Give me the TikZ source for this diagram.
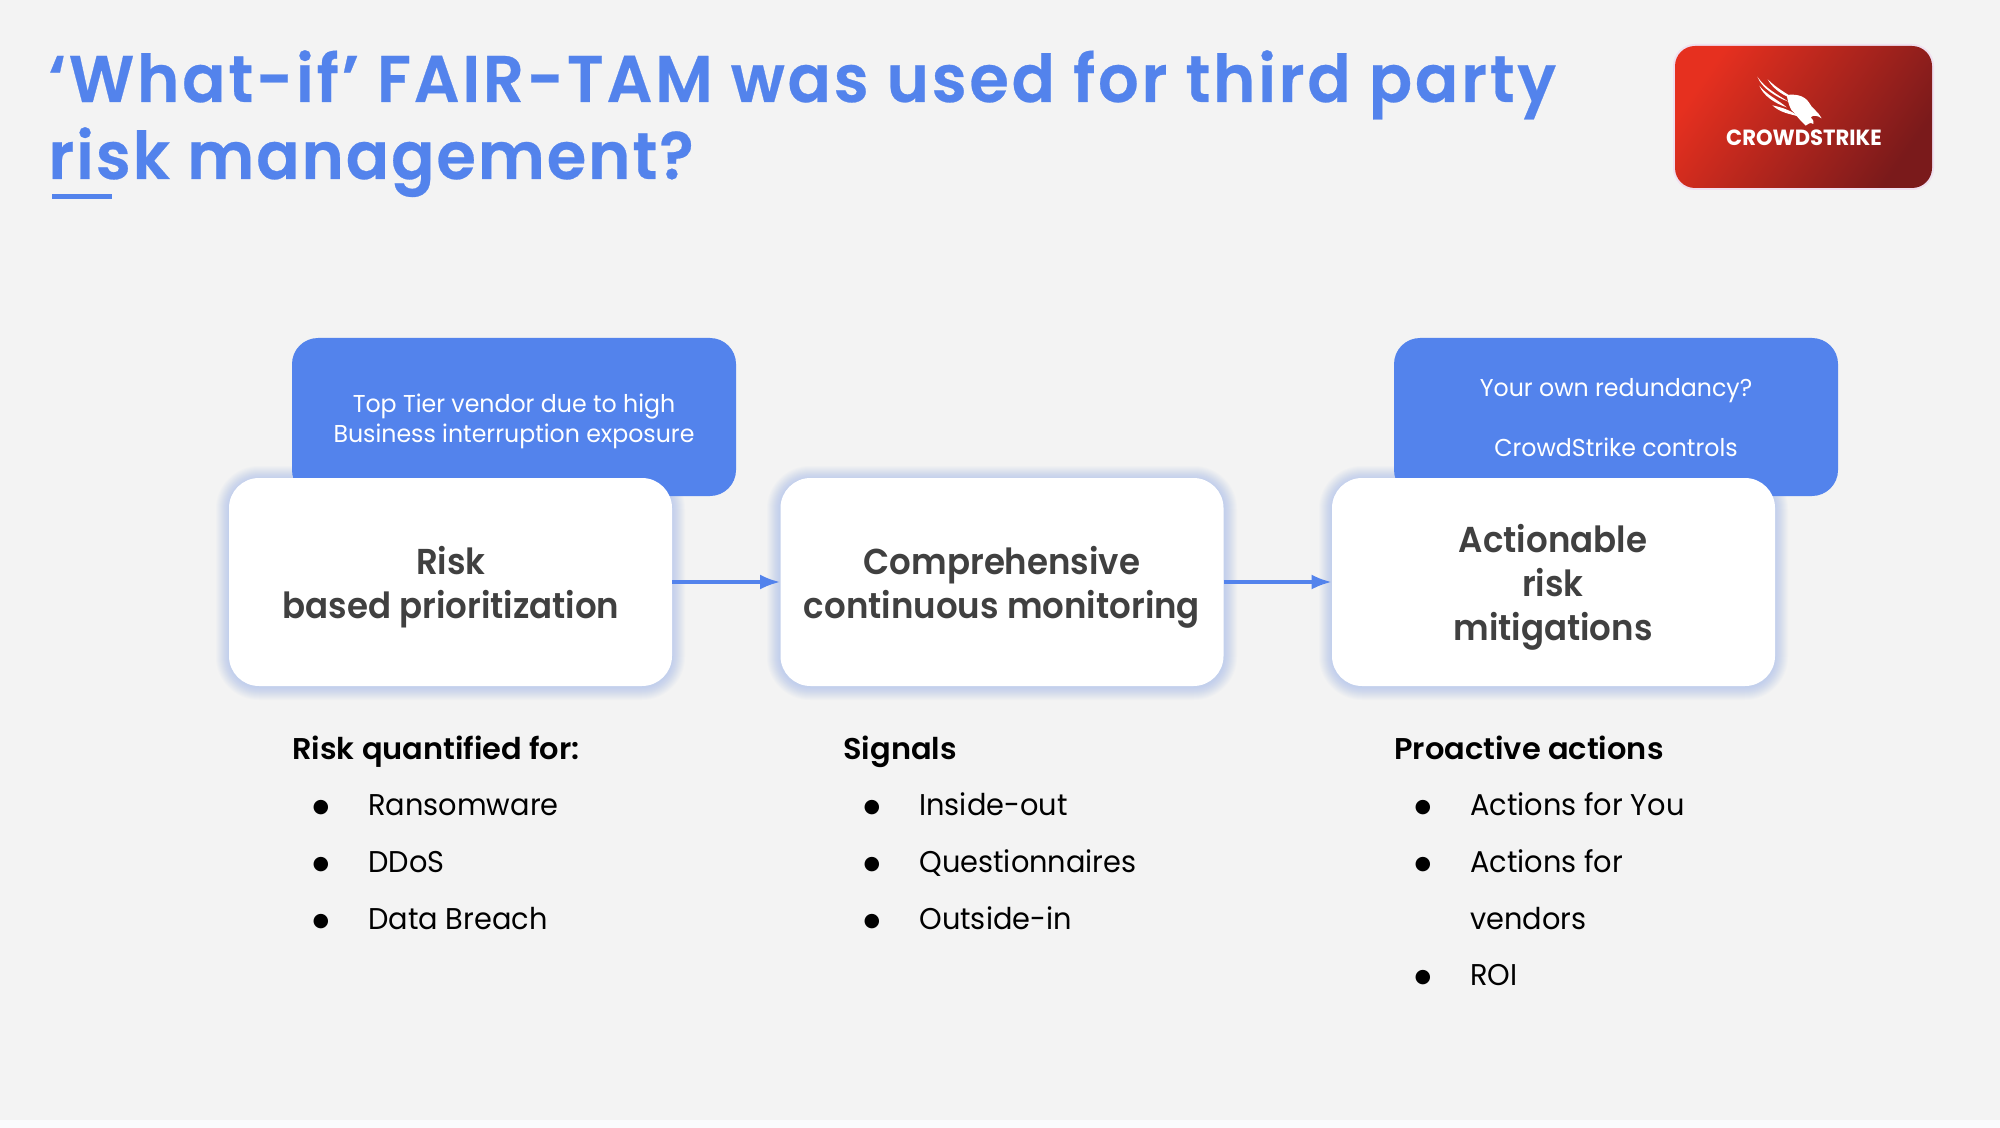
\documentclass[tikz,border=0pt]{standalone}
\usepackage{fontspec}
\setmainfont{Poppins}[FakeStretch=0.96]
\newfontfamily\titlefont{Poppins SemiBold}[FakeStretch=0.97,LetterSpace=2.9,FakeBold=0.4]
\newfontfamily\titlefontwide{Poppins SemiBold}[FakeStretch=0.97,LetterSpace=4.2,FakeBold=0.4]
\newfontfamily\semifont{Poppins SemiBold}[FakeStretch=0.945]
\newfontfamily\headfont{Poppins SemiBold}[FakeStretch=1.015]
\newfontfamily\calloutfont{Poppins}[FakeStretch=0.97]
\newfontfamily\bulletfont{DejaVu Sans}
\usetikzlibrary{arrows.meta}
\definecolor{pagebg}{HTML}{F3F3F3}
\definecolor{stripbg}{HTML}{FAFBFC}
\definecolor{accent}{HTML}{5383EC}
\definecolor{ink}{HTML}{404040}
\definecolor{logoa}{HTML}{E6301F}
\definecolor{logob}{HTML}{7A1A1B}
\newcommand{\fs}[2]{\fontsize{#1}{#2}\selectfont}
\tikzset{
  titletext/.style={anchor=base west,inner sep=0pt,text=accent,font=\titlefont\fs{33}{38}},
  titlewide/.style={titletext,font=\titlefontwide\fs{33}{38}},
  calloutbox/.style={rectangle,rounded corners=13pt,fill=accent,minimum width=222pt,minimum height=79pt,inner sep=0pt},
  calloutlabel/.style={inner sep=0pt,align=center,text=white,font=\calloutfont\fs{12.2}{15}},
  mainbox/.style={rectangle,rounded corners=15pt,fill=white,minimum width=221.5pt,minimum height=104pt,inner sep=0pt},
  mainlabel/.style={inner sep=0pt,align=center,text=ink,font=\semifont\fs{18}{22}},
  heading/.style={anchor=base west,inner sep=0pt,text=black,font=\headfont\fs{15}{18}},
  item/.style={anchor=base west,inner sep=0pt,text=black,font=\fs{15}{18}},
  dot/.style={anchor=base,inner sep=0pt,text=black,font=\bulletfont\fs{9.5}{13}},
  flow/.style={draw=accent,line width=1.6pt,-{Latex[length=10pt,width=7.5pt]}},
  glowlayer/.style={fill=accent,opacity=0.025,draw=none}
}
\newcommand{\glow}[4]{%
  \foreach \g in {1,...,13}{
    \pgfmathsetmacro{\rr}{15+\g/2}
    \fill[glowlayer,rounded corners=\rr pt] (#1-\g,#2-\g+1) rectangle (#3+\g,#4+\g+1);
  }}
\begin{document}
\begin{tikzpicture}[x=0.5pt,y=-0.5pt]
\useasboundingbox (0,0) rectangle (2000,1128);
\fill[pagebg] (0,0) rectangle (2000,1128);
\fill[stripbg] (0,1120) rectangle (2000,1128);

% title
\node[titlewide] (t1) at (48,102) {‘What-if’ FAIR-TAM was used for third party};
\node[titletext] (t2) at (48,179) {risk management?};
\fill[accent] (52,194) rectangle (112,199);

% logo
\fill[rounded corners=11pt,fill=violet!12] (1673,44) rectangle (1934,190);
\shade[rounded corners=10pt,left color=logoa,right color=logob,shading angle=55]
  (1675,46) rectangle (1932,188);
\node[inner sep=0pt,anchor=base,text=white,font=\fs{11}{12}\bfseries] (logotext) at (1804,146) {CROWDSTRIKE};
\begin{scope}[shift={(1640,20)},x=0.16667pt,y=-0.16667pt]
  \fill[white] (440,225) .. controls (465,222) and (490,225) .. (505,245)
    .. controls (515,265) and (535,275) .. (545,295)
    .. controls (530,285) and (520,285) .. (512,292)
    .. controls (520,300) and (522,306) .. (520,312)
    .. controls (510,305) and (505,312) .. (497,317)
    .. controls (485,305) and (475,295) .. (462,278)
    .. controls (450,270) and (445,250) .. (440,225) -- cycle;
  \fill[white] (383,178) .. controls (410,205) and (440,220) .. (468,240)
    .. controls (435,230) and (400,210) .. (383,178) -- cycle;
  \fill[white] (352,170) .. controls (375,205) and (415,225) .. (445,245)
    .. controls (410,232) and (365,205) .. (352,170) -- cycle;
  \fill[white] (358,197) .. controls (380,225) and (415,240) .. (440,262)
    .. controls (405,250) and (370,228) .. (358,197) -- cycle;
  \fill[white] (397,256) .. controls (425,262) and (450,270) .. (478,290)
    .. controls (450,282) and (420,278) .. (397,256) -- cycle;
\end{scope}

% callouts
\node[calloutbox] (c1) at (514,417) {};
\node[calloutbox] (c3) at (1616,417) {};

% main boxes
\glow{229}{478}{672}{686}
\glow{780}{478}{1224}{686}
\glow{1332}{478}{1775}{686}
\node[mainbox] (b1) at (450.5,582) {};
\node[mainbox] (b2) at (1002,582) {};
\node[mainbox] (b3) at (1553.5,582) {};
\draw[flow] (b1) -- (b2);
\draw[flow] (b2) -- (b3);

% box and callout text
\node[calloutlabel] (c1t) at (514,421) {Top Tier vendor due to high\\Business interruption exposure};
\node[calloutlabel] (c3t) at (1616,418) {Your own redundancy?\\[15pt]CrowdStrike controls};
\node[mainlabel] (b1t) at (451,587) {Risk\\based prioritization};
\node[mainlabel] (b2t) at (1002,587) {Comprehensive\\continuous monitoring};
\node[mainlabel] (b3t) at (1553,587) {Actionable\\risk\\mitigations};

% lists
\node[heading] (h1) at (292,759) {Risk quantified for:};
\node[dot] (d11) at (321,812) {●};
\node[dot] (d12) at (321,869) {●};
\node[dot] (d13) at (321,926) {●};
\node[item] (i11) at (368,815) {Ransomware};
\node[item] (i12) at (368,872) {DDoS};
\node[item] (i13) at (368,929) {Data Breach};

\node[heading] (h2) at (843,759) {Signals};
\node[dot] (d21) at (872,812) {●};
\node[dot] (d22) at (872,869) {●};
\node[dot] (d23) at (872,926) {●};
\node[item] (i21) at (919,815) {Inside-out};
\node[item] (i22) at (919,872) {Questionnaires};
\node[item] (i23) at (919,929) {Outside-in};

\node[heading] (h3) at (1394,759) {Proactive actions};
\node[dot] (d31) at (1423,812) {●};
\node[dot] (d32) at (1423,869) {●};
\node[dot] (d33) at (1423,982) {●};
\node[item] (i31) at (1470,815) {Actions for You};
\node[item] (i32) at (1470,872) {Actions for};
\node[item] (i33) at (1470,929) {vendors};
\node[item] (i34) at (1470,985) {ROI};
\end{tikzpicture}
\end{document}
